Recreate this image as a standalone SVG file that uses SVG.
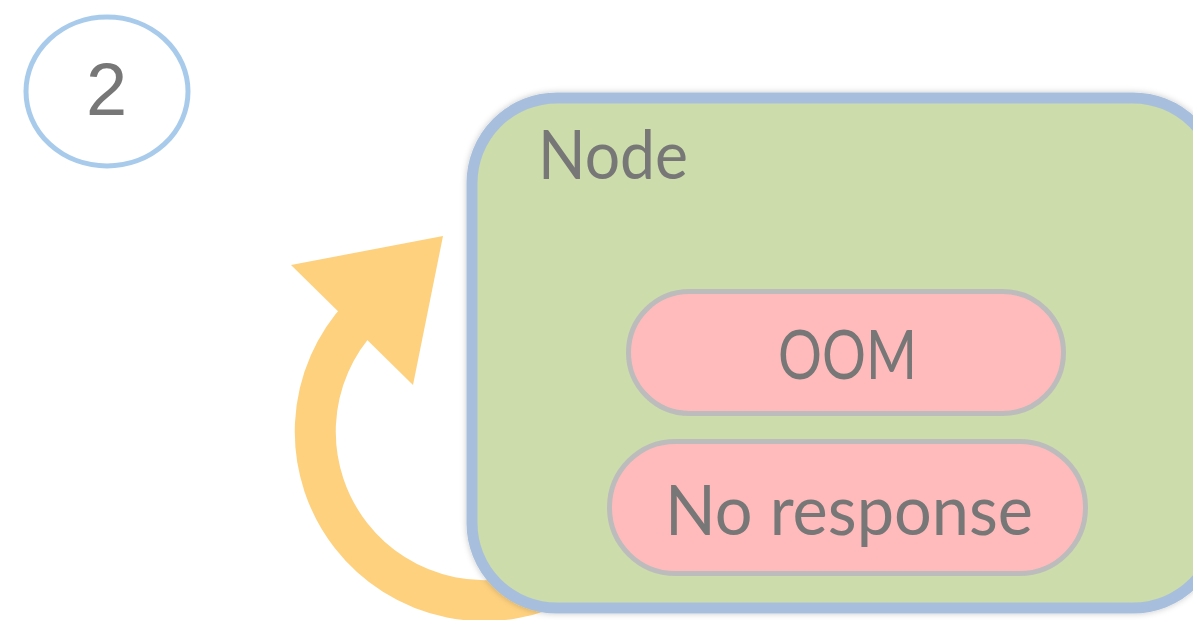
<svg xmlns="http://www.w3.org/2000/svg" width="1193" height="620" viewBox="0 0 1193 620">
  <style>
    .label { fill: #777777; font-family: Lato, "Open Sans", sans-serif; }
    .pill { fill: #ffbbbb; stroke: #bcbcbc; stroke-width: 5; }
  </style>
  <defs>
    <filter id="soft-shadow" x="-10%" y="-10%" width="120%" height="120%">
      <feDropShadow dx="0" dy="0" stdDeviation="3" flood-color="#000000" flood-opacity="0.22"/>
    </filter>
  </defs>
  <rect width="1193" height="620" fill="#ffffff"/>

  <!-- step badge -->
  <g id="step-badge">
    <ellipse cx="107" cy="91.5" rx="81" ry="74.5" fill="#ffffff" stroke="#a9cbeb" stroke-width="5"/>
    <text x="106.5" y="115" text-anchor="middle" font-family="'Liberation Sans', Arial, sans-serif" font-size="74" fill="#777777">2</text>
  </g>

  <!-- restart loop arrow: thick arc ending inside a triangular head -->
  <g id="connectors">
    <path d="M 567 579 A 169 169 0 0 1 361.4 315.6" fill="none" stroke="#fed17f" stroke-width="41"/>
    <polygon points="291,265 443,236 413,385" fill="#fed17f"/>
  </g>

  <!-- node container -->
  <g id="node">
    <rect x="472" y="98" width="746" height="510" rx="85" ry="85" fill="#cddcab" stroke="#a7bfdd" stroke-width="11" filter="url(#soft-shadow)"/>
    <text class="label" x="538" y="179" font-size="68" textLength="150" lengthAdjust="spacingAndGlyphs">Node</text>
  </g>

  <g id="oom">
    <rect class="pill" x="628.5" y="291.5" width="435" height="122" rx="61" ry="61"/>
    <text class="label" x="847.5" y="379" font-size="68" text-anchor="middle" textLength="139" lengthAdjust="spacingAndGlyphs">OOM</text>
  </g>

  <g id="no-response">
    <rect class="pill" x="609.5" y="441.5" width="476" height="132" rx="66" ry="66"/>
    <text class="label" x="849" y="535" font-size="70" text-anchor="middle" textLength="368" lengthAdjust="spacingAndGlyphs">No response</text>
  </g>
</svg>
